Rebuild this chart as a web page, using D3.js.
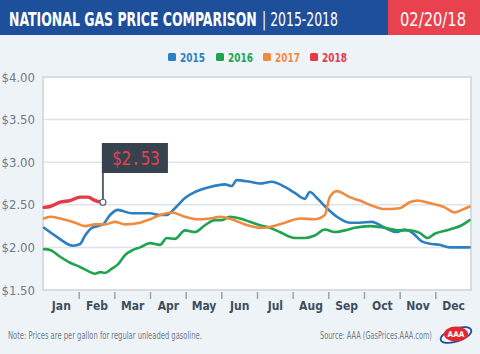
<!DOCTYPE html>
<html>
<head>
<meta charset="utf-8">
<script src="https://cdn.jsdelivr.net/npm/d3@7"></script>
<style>
  html, body { margin: 0; padding: 0; background: #eef3f8; }
  svg { display: block; }
</style>
</head>
<body>
<svg id="chart" width="480" height="354" font-family="'Liberation Sans Narrow', 'DejaVu Sans Condensed', Roboto, sans-serif"></svg>
<script>
// ---- data (x = months elapsed since Jan 1, y = $ per gallon) ----
const months = ["Jan","Feb","Mar","Apr","May","Jun","Jul","Aug","Sep","Oct","Nov","Dec"];
const yTicks = [1.5, 2.0, 2.5, 3.0, 3.5, 4.0];
const years = ["2015","2016","2017","2018"];
const colors = ["#2b7fc2","#1ea34f","#f08a3e","#e63a4a"];

const t2015 = [0.03,0.4,0.84,1.04,1.18,1.37,1.68,1.88,2.1,2.49,3.0,3.28,3.47,3.7,3.98,4.26,4.68,5.1,5.29,5.43,5.8,6.08,6.41,6.78,7.06,7.34,7.48,7.68,7.96,8.24,8.6,8.88,9.22,9.58,9.92,10.14,10.36,10.62,10.9,11.12,11.4,11.96];
const p2015 = [2.23,2.12,2.02,2.04,2.14,2.23,2.27,2.38,2.44,2.40,2.40,2.38,2.38,2.46,2.58,2.65,2.71,2.74,2.72,2.79,2.77,2.75,2.77,2.71,2.64,2.57,2.65,2.58,2.46,2.36,2.29,2.29,2.30,2.23,2.18,2.21,2.17,2.07,2.04,2.03,2.00,2.00];

const t2016 = [0.03,0.2,0.48,0.76,1.04,1.32,1.46,1.6,1.74,1.93,2.1,2.3,2.52,2.72,3.0,3.28,3.47,3.7,3.98,4.26,4.54,4.82,5.01,5.24,5.52,5.8,6.08,6.36,6.64,7.06,7.34,7.62,7.9,8.18,8.46,8.74,9.16,9.58,10.0,10.28,10.56,10.78,10.98,11.4,11.74,11.96];
const p2016 = [1.98,1.97,1.89,1.82,1.77,1.71,1.69,1.71,1.70,1.75,1.80,1.91,1.97,2.00,2.05,2.03,2.11,2.10,2.20,2.18,2.26,2.32,2.32,2.36,2.34,2.30,2.26,2.23,2.18,2.11,2.11,2.14,2.21,2.18,2.20,2.23,2.25,2.23,2.20,2.20,2.17,2.11,2.16,2.21,2.26,2.32];

const t2017 = [0.03,0.2,0.48,0.9,1.18,1.46,1.74,2.02,2.3,2.72,3.0,3.28,3.61,3.98,4.31,4.68,4.96,5.29,5.66,6.08,6.36,6.78,7.2,7.62,7.9,8.04,8.24,8.6,8.88,9.16,9.58,10.0,10.28,10.5,10.84,11.26,11.54,11.74,11.96];
const p2017 = [2.34,2.36,2.34,2.29,2.25,2.27,2.27,2.30,2.27,2.29,2.33,2.38,2.41,2.36,2.33,2.34,2.36,2.33,2.27,2.23,2.24,2.29,2.34,2.33,2.38,2.59,2.66,2.59,2.55,2.50,2.45,2.46,2.53,2.55,2.52,2.47,2.41,2.44,2.48];

const t2018 = [0.03,0.2,0.48,0.76,1.04,1.26,1.46,1.68];
const p2018 = [2.47,2.48,2.53,2.55,2.59,2.59,2.55,2.53];

const titleMain = "NATIONAL GAS PRICE COMPARISON";
const titleYears = "| 2015-2018";
const dateLabel = "02/20/18";
const note = "Note: Prices are per gallon for regular unleaded gasoline.";
const source = "Source: AAA (GasPrices.AAA.com)";

// ---- build ----
const svg = d3.select("#chart");
const W = 480, H = 354;
const L = 43, R = 471, T = 77, B = 290;

// text helper: fits a text to a width by shrinking font size, restoring its height with a vertical scale
function fitText(parent, str, px, py, width, size, opts = {}) {
  const t = parent.append("text").attr("x", 0).attr("y", 0).attr("font-size", size).text(str);
  Object.entries(opts).forEach(([k, v]) => t.attr(k, v));
  const w = t.node().getComputedTextLength();
  const f = size * width / w;
  t.attr("font-size", f).attr("transform", `translate(${px},${py}) scale(1,${(size / f).toFixed(4)})`);
  return t;
}

svg.append("rect").attr("width", W).attr("height", H).attr("fill", "#eef3f8");

// header
svg.append("rect").attr("x", 0).attr("y", 0).attr("width", 388).attr("height", 35).attr("fill", "#1d4f9b");
svg.append("rect").attr("x", 388).attr("y", 0).attr("width", 92).attr("height", 35).attr("fill", "#e8424e");
fitText(svg, titleMain, 9, 25.5, 248, 19, { fill: "#fff", "font-weight": "bold" });
fitText(svg, titleYears, 262, 25.5, 76, 19, { fill: "#fff" });
fitText(svg, dateLabel, 433, 25.5, 66, 20, { fill: "#fff", "text-anchor": "middle" });

// scales
const x = d3.scaleLinear().domain([0, 12]).range([L, R]);
const y = d3.scaleLinear().domain([1.5, 4.0]).range([B, T]);

// plot area
svg.append("rect").attr("x", L).attr("y", T).attr("width", R - L).attr("height", B - T)
  .attr("fill", "#fff").attr("stroke", "#d8dce1").attr("stroke-width", 2);

// gridlines
svg.append("g").selectAll("line").data(yTicks.filter(v => v > 1.5 && v < 4.0)).join("line")
  .attr("x1", L).attr("x2", R).attr("y1", d => y(d)).attr("y2", d => y(d))
  .attr("stroke", "#dfe2e6").attr("stroke-width", 1.5);

// y axis labels
const yAxis = d3.axisLeft(y).tickValues(yTicks).tickSize(0).tickPadding(8).tickFormat(d => "$" + d.toFixed(2));
const gy = svg.append("g").attr("transform", `translate(${L},0)`).call(yAxis);
gy.attr("font-family", null);
gy.select(".domain").remove();
gy.selectAll("text").attr("font-size", 13).attr("fill", "#6f7c8a");

// x axis: ticks at month boundaries, labels at month middles
const xb = d3.axisBottom(x).tickValues(d3.range(1, 12)).tickSize(7).tickFormat("");
const gxb = svg.append("g").attr("transform", `translate(0,${B + 2})`).call(xb);
gxb.select(".domain").remove();
gxb.selectAll("line").attr("stroke", "#9aa5b0").attr("stroke-width", 1.5);
const xl = d3.axisBottom(x).tickValues(d3.range(0.5, 12, 1)).tickSize(0).tickPadding(9)
  .tickFormat((d, i) => months[i]);
const gxl = svg.append("g").attr("transform", `translate(0,${B + 2})`).call(xl);
gxl.attr("font-family", null);
gxl.select(".domain").remove();
gxl.selectAll("text").attr("font-size", 12).attr("font-weight", "bold").attr("fill", "#3e4e60");

// lines
const line = d3.line().x(d => x(d[0])).y(d => y(d[1])).curve(d3.curveMonotoneX);
const series = [
  { key: years[0], t: t2015, p: p2015, c: colors[0], w: 2.6 },
  { key: years[1], t: t2016, p: p2016, c: colors[1], w: 2.6 },
  { key: years[2], t: t2017, p: p2017, c: colors[2], w: 2.6 },
  { key: years[3], t: t2018, p: p2018, c: colors[3], w: 3.4 }
];
svg.append("g").selectAll("path").data(series).join("path")
  .attr("d", s => line(s.t.map((tv, i) => [tv, s.p[i]])))
  .attr("fill", "none").attr("stroke", s => s.c).attr("stroke-width", s => s.w)
  .attr("stroke-linejoin", "round").attr("stroke-linecap", "round");

// flag marker at the latest 2018 point
const lastT = t2018[t2018.length - 1], lastP = p2018[p2018.length - 1];
const fx = x(lastT), fy = y(lastP);
svg.append("line").attr("x1", fx).attr("x2", fx).attr("y1", 143).attr("y2", fy)
  .attr("stroke", "#566470").attr("stroke-width", 2);
svg.append("rect").attr("x", fx - 1).attr("y", 143).attr("width", 66).attr("height", 30).attr("fill", "#36434e");
fitText(svg, "$" + lastP.toFixed(2), fx + 9, 165, 48, 20,
  { fill: "#e2404e", "font-family": "'DejaVu Sans Mono', monospace" });
svg.append("circle").attr("cx", fx).attr("cy", fy).attr("r", 3).attr("fill", "#fff")
  .attr("stroke", "#566470").attr("stroke-width", 1.2);

// legend
const lg = svg.append("g");
const lx = [168, 216, 263, 310];
years.forEach((yr, i) => {
  lg.append("rect").attr("x", lx[i]).attr("y", 53).attr("width", 8).attr("height", 8).attr("rx", 1.5).attr("fill", colors[i]);
  fitText(lg, yr, lx[i] + 12, 61.5, 25, 13, { fill: colors[i], "font-weight": "bold" });
});

// footer
fitText(svg, note, 8, 338.5, 194, 10, { fill: "#6f7c8a" });
fitText(svg, source, 320, 338.5, 112, 10, { fill: "#6f7c8a" });

// AAA logo (approximation)
const logo = svg.append("g").attr("transform", "translate(456,335)");
logo.append("ellipse").attr("rx", 16).attr("ry", 6.5).attr("transform", "rotate(-18)")
  .attr("fill", "none").attr("stroke", "#1d4f9b").attr("stroke-width", 1.8);
logo.append("ellipse").attr("rx", 12).attr("ry", 7.5).attr("cy", -1).attr("fill", "#e3262f");
fitText(logo, "AAA", 0, 2, 17, 8, { fill: "#fff", "font-weight": "bold", "text-anchor": "middle", "font-family": "'DejaVu Sans', sans-serif" });
</script>
</body>
</html>
